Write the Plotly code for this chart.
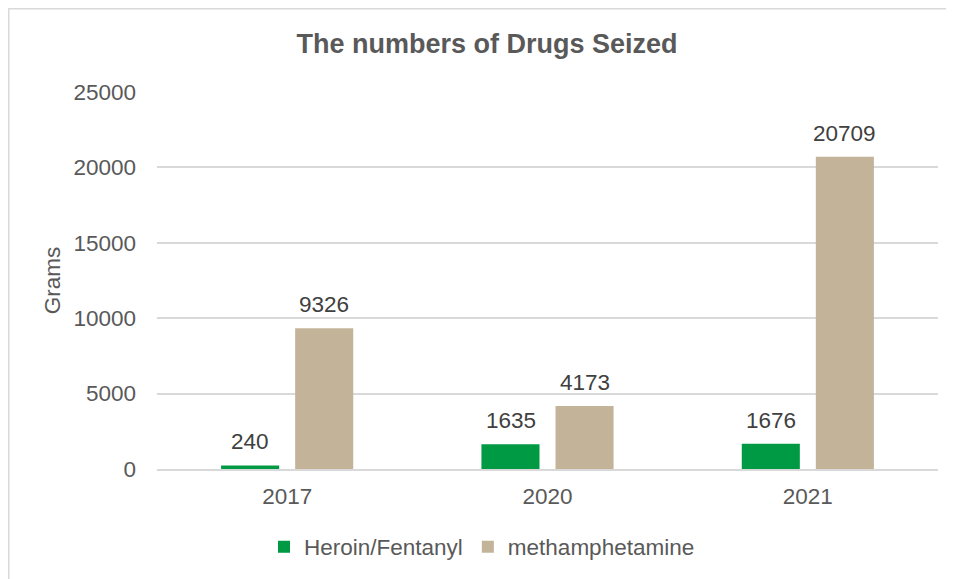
import plotly.graph_objects as go

years = ["2017", "2020", "2021"]
heroin = [240, 1635, 1676]
meth = [9326, 4173, 20709]
y_ticks = [0, 5000, 10000, 15000, 20000, 25000]

# page is offset by the 8px body margin; work in page pixels and convert
OFF = 8
W, H = 954 - OFF, 579 - OFF
L, R, T, B = 157 - OFF, 938 - OFF, 92 - OFF, 469 - OFF
def px2x(px): return (px - OFF - L) / (R - L)
def py2y(py): return (B - (py - OFF)) / (B - T)

GREEN = "#009A44"
TAN = "#C3B499"
FS = 22.5

fig = go.Figure()
fig.add_trace(go.Bar(x=years, y=heroin, name="Heroin/Fentanyl", marker_color=GREEN,
                     marker_line_width=0))
fig.add_trace(go.Bar(x=years, y=meth, name="methamphetamine", marker_color=TAN,
                     marker_line_width=0))

# data labels: annotations at each bar's value (category index on x, bar offset in px)
annotations = []
for series, shift in ((heroin, -37), (meth, 37)):
    for i, v in enumerate(series):
        annotations.append(dict(x=i, y=v, xref="x", yref="y", text=str(v), showarrow=False,
                                xshift=shift, yshift=9, yanchor="bottom",
                                font=dict(size=FS, color="#404040")))

fig.update_layout(
    width=W, height=H,
    margin=dict(l=L, r=W - R, t=T, b=H - B, autoexpand=False),
    paper_bgcolor="white", plot_bgcolor="rgba(0,0,0,0)",
    font=dict(family="Liberation Sans, Arial, sans-serif", color="#595959"),
    title=dict(text="<b>The numbers of Drugs Seized</b>", x=px2x(487), xref="paper",
               xanchor="center", y=1 - (44 - OFF) / H, yanchor="middle",
               font=dict(size=27, color="#595959")),
    bargap=0.431, bargroupgap=0.216, barmode="group",
    showlegend=True,
    legend=dict(orientation="h", x=px2x(264), xanchor="left", y=py2y(547), yanchor="middle",
                font=dict(size=FS, color="#595959"), itemwidth=30, traceorder="normal",
                bgcolor="rgba(0,0,0,0)"),
    annotations=annotations,
    shapes=[dict(type="rect", xref="paper", yref="paper", layer="below",
                 x0=px2x(OFF + 0.5), x1=px2x(1000), y0=py2y(640), y1=py2y(OFF + 0.5),
                 fillcolor="white", line=dict(color="#d9d9d9", width=2))],
)
fig.update_yaxes(range=[0, 25000], tickvals=y_ticks, ticktext=[str(v) for v in y_ticks],
                 showgrid=True, gridcolor="#d9d9d9", gridwidth=1.5, zeroline=False,
                 tickfont=dict(size=FS, color="#595959"), ticks="", ticklabelstandoff=20,
                 title=dict(text="Grams", font=dict(size=FS, color="#595959"), standoff=6),
                 showline=False)
fig.update_xaxes(type="category", categoryorder="array", categoryarray=years,
                 range=[-0.5, len(years) - 0.5],
                 showline=True, linecolor="#d9d9d9", linewidth=2, showgrid=False,
                 tickfont=dict(size=FS, color="#595959"), ticks="", ticklabelstandoff=6)

fig.write_html("out.html", config={"displayModeBar": False})
